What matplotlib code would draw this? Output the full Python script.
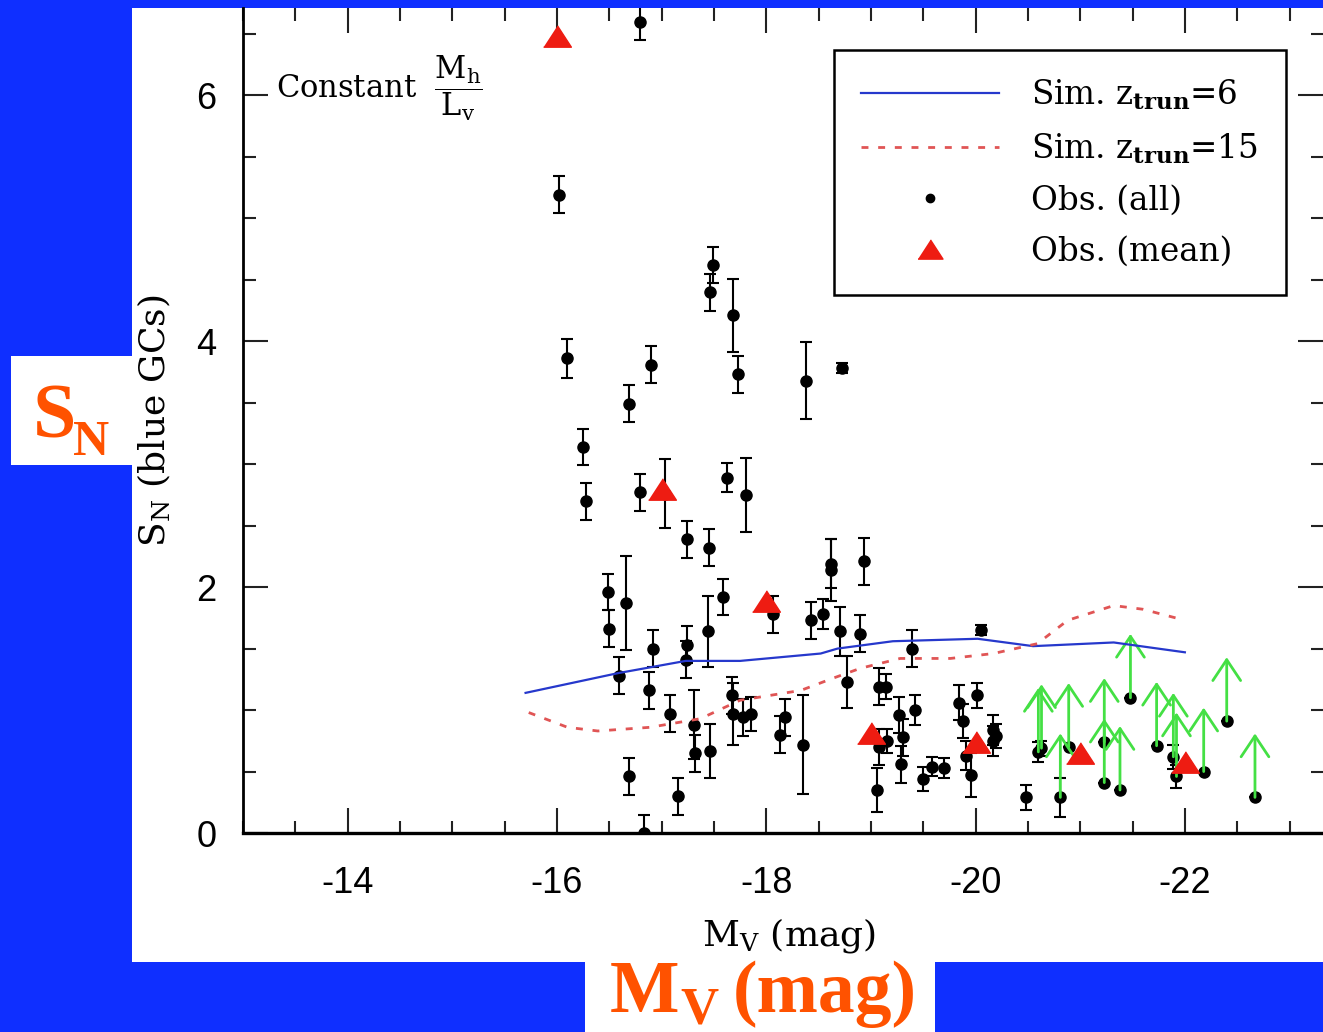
import matplotlib
matplotlib.use('Agg')
import matplotlib.pyplot as plt
from matplotlib.patches import Rectangle
from matplotlib.lines import Line2D
from matplotlib.ticker import MultipleLocator

plt.rcParams['font.family'] = ['DejaVu Serif']
plt.rcParams['mathtext.fontset'] = 'dejavuserif'
plt.rcParams['axes.unicode_minus'] = False

# Observed galaxies (all), with error bars
mv_all = [-16.79, -16.02, -16.10, -16.25, -16.28, -16.69, -16.90, -16.79, -17.03,
          -17.24, -17.45, -17.49, -17.46, -17.68, -17.73, -18.38, -18.72, -17.62, -17.81,
          -16.49, -16.50, -16.66, -16.59, -16.92, -16.88, -17.08, -17.24, -17.23, -17.44,
          -17.59, -18.06, -16.69, -17.16, -16.83, -17.31, -17.32, -17.46, -17.67, -17.68,
          -17.78, -17.85, -18.13, -18.18, -18.35,
          -18.62, -18.62, -18.93, -18.43, -18.54, -18.70, -18.90, -19.39, -20.05, -18.77,
          -19.08, -19.14, -19.27, -19.42, -19.15, -19.08, -19.31, -19.29, -19.06, -19.50,
          -19.58, -19.70, -19.84, -19.88, -20.01, -19.91, -19.96, -20.17, -20.17, -20.20,
          -20.48]
sn_all = [6.60, 5.19, 3.86, 3.14, 2.70, 3.49, 3.81, 2.77, 2.76,
          2.39, 2.32, 4.62, 4.40, 4.21, 3.73, 3.68, 3.78, 2.89, 2.75,
          1.96, 1.66, 1.87, 1.28, 1.50, 1.16, 0.97, 1.53, 1.41, 1.64,
          1.92, 1.78, 0.46, 0.30, 0.00, 0.88, 0.65, 0.67, 1.12, 0.97,
          0.94, 0.97, 0.80, 0.94, 0.72,
          2.19, 2.14, 2.21, 1.73, 1.78, 1.64, 1.62, 1.50, 1.65, 1.23,
          1.19, 1.19, 0.96, 1.00, 0.75, 0.70, 0.78, 0.56, 0.35, 0.44,
          0.54, 0.53, 1.06, 0.91, 1.12, 0.63, 0.47, 0.84, 0.75, 0.79,
          0.29]
sn_all_err = [0.15, 0.15, 0.16, 0.15, 0.15, 0.15, 0.15, 0.15, 0.28,
              0.15, 0.15, 0.15, 0.15, 0.30, 0.15, 0.31, 0.04, 0.12, 0.30,
              0.15, 0.15, 0.38, 0.15, 0.15, 0.15, 0.15, 0.15, 0.15, 0.29,
              0.15, 0.15, 0.15, 0.15, 0.15, 0.28, 0.15, 0.22, 0.15, 0.25,
              0.15, 0.14, 0.15, 0.15, 0.40,
              0.20, 0.25, 0.19, 0.15, 0.12, 0.20, 0.15, 0.15, 0.04, 0.21,
              0.15, 0.10, 0.15, 0.12, 0.10, 0.15, 0.15, 0.15, 0.18, 0.10,
              0.08, 0.08, 0.14, 0.14, 0.10, 0.12, 0.18, 0.12, 0.12, 0.10,
              0.10]

# Observed galaxies that are lower limits (green arrows)
mv_lim = [-20.60, -20.63, -20.81, -20.89, -21.23, -21.23, -21.38, -21.48,
          -21.73, -21.89, -21.92, -22.18, -22.40, -22.67]
sn_lim = [0.66, 0.69, 0.29, 0.70, 0.74, 0.41, 0.35, 1.10,
          0.71, 0.62, 0.46, 0.50, 0.91, 0.29]
sn_lim_err = [0.08, 0.06, 0.16, 0.0, 0.0, 0.0, 0.0, 0.0,
              0.0, 0.10, 0.09, 0.0, 0.0, 0.0]

# Observed means
mv_mean = [-16, -17, -18, -19, -20, -21, -22]
sn_mean = [6.48, 2.80, 1.89, 0.81, 0.74, 0.65, 0.58]

# Simulations
mv_sim6 = [-15.70, -16.58, -17.23, -17.75, -18.52, -18.68, -19.21, -20.02, -20.55, -21.32, -22.00]
sn_sim6 = [1.14, 1.30, 1.40, 1.40, 1.46, 1.50, 1.56, 1.58, 1.52, 1.55, 1.47]
mv_sim15 = [-15.73, -16.10, -16.39, -16.89, -17.37, -17.75, -18.33, -18.64, -18.90,
            -19.28, -19.76, -20.17, -20.59, -20.88, -21.32, -21.60, -22.00]
sn_sim15 = [0.98, 0.86, 0.83, 0.86, 0.93, 1.08, 1.16, 1.26, 1.34,
            1.42, 1.42, 1.46, 1.54, 1.73, 1.85, 1.82, 1.73]

blue_bg = '#0f2fff'
orange = '#ff5200'
red = '#ee1c12'
green = '#44e044'
sim6_col = '#2638cc'
sim15_col = '#e05555'
sim15_ls = (0, (2.5, 3.5))
arrow_len = 0.52
tri = [(-1, -0.77), (1, -0.77), (0, 0.77)]

fig = plt.figure(figsize=(13.23, 10.32), dpi=100, facecolor=blue_bg)

# white panels on the blue slide
fig.add_artist(Rectangle((0.0998, 0.0678), 0.9002, 0.9244, transform=fig.transFigure,
                         facecolor='white', edgecolor='none', zorder=-1))
fig.add_artist(Rectangle((0.0083, 0.5494), 0.0915, 0.1056, transform=fig.transFigure,
                         facecolor='white', edgecolor='none', zorder=-1))
fig.add_artist(Rectangle((0.4422, 0.0), 0.2646, 0.0679, transform=fig.transFigure,
                         facecolor='white', edgecolor='none', zorder=-1))

ax = fig.add_axes([0.1837, 0.1928, 0.8163, 0.7994])
ax.set_facecolor('white')
ax.set_xlim(-13.0, -23.32)
ax.set_ylim(0, 6.71)

ax.errorbar(mv_all, sn_all, yerr=sn_all_err, fmt='o', color='black', ms=8,
            elinewidth=1.5, capsize=4.5, capthick=1.5, zorder=3)
ax.errorbar(mv_lim, sn_lim, yerr=sn_lim_err, fmt='o', color='black', ms=8,
            elinewidth=1.5, capsize=4.5, capthick=1.5, zorder=3)
for x, y in zip(mv_lim, sn_lim):
    ax.annotate('', xy=(x, y + arrow_len), xytext=(x, y),
                arrowprops=dict(arrowstyle='->,head_length=0.75,head_width=0.5',
                                color=green, lw=2, shrinkA=0, shrinkB=0,
                                mutation_scale=20), zorder=4)

ax.plot(mv_mean, sn_mean, ls='none', marker=tri, ms=20, color=red, zorder=4)
ax.plot(mv_sim6, sn_sim6, color=sim6_col, lw=1.6, zorder=5)
ax.plot(mv_sim15, sn_sim15, color=sim15_col, lw=2, ls=sim15_ls, zorder=5)

# axes styling
ax.spines['top'].set_visible(False)
ax.spines['right'].set_visible(False)
ax.spines['left'].set_linewidth(2)
ax.spines['bottom'].set_linewidth(2.4)
ax.xaxis.set_major_locator(MultipleLocator(2))
ax.xaxis.set_minor_locator(MultipleLocator(0.5))
ax.yaxis.set_major_locator(MultipleLocator(2))
ax.yaxis.set_minor_locator(MultipleLocator(0.5))
ax.tick_params(which='both', direction='in', top=True, right=True, width=1.5, color='#222222')
ax.tick_params(which='major', length=18)
ax.tick_params(which='minor', length=9)
ax.tick_params(axis='x', pad=24, labelsize=26, labelfontfamily='Liberation Sans')
ax.tick_params(axis='y', pad=19, labelsize=26, labelfontfamily='Liberation Sans')

ax.set_xlabel(r'M$_\mathrm{V}$ (mag)', fontsize=26)
ax.xaxis.set_label_coords(0.506, -0.10)
ax.set_ylabel(r'S$_\mathrm{N}$ (blue GCs)', fontsize=26)
ax.yaxis.set_label_coords(-0.066, 0.5)

ax.text(0.0306, 0.903, r'Constant  $\dfrac{\mathrm{M_h}}{\mathrm{L_v}}$', transform=ax.transAxes,
        fontsize=22, va='center')

handles = [Line2D([], [], color=sim6_col, lw=1.6),
           Line2D([], [], color=sim15_col, lw=2, ls=sim15_ls),
           Line2D([], [], ls='none', marker='o', color='black', ms=6),
           Line2D([], [], ls='none', marker=tri, color=red, ms=18)]
labels = [r'Sim. z$_{\mathbf{trun}}$=6', r'Sim. z$_{\mathbf{trun}}$=15',
          'Obs. (all)', 'Obs. (mean)']
leg = ax.legend(handles, labels, loc='upper right', bbox_to_anchor=(0.9657, 0.949),
                bbox_transform=ax.transAxes, borderaxespad=0, fontsize=23.5,
                handlelength=4.2, handletextpad=1.0, labelspacing=0.58, borderpad=0.85,
                frameon=True, fancybox=False, edgecolor='black', framealpha=1)
leg.get_frame().set_linewidth(1.8)

# orange slide annotations
fig.text(33 / 1323, (1032 - 438) / 1032, 'S', fontsize=56, fontweight='bold',
         family='Liberation Serif', color=orange, va='baseline')
fig.text(73 / 1323, (1032 - 455) / 1032, 'N', fontsize=36, fontweight='bold',
         family='Liberation Serif', color=orange, va='baseline')
fig.text(610 / 1323, (1032 - 1012) / 1032, 'M', fontsize=53, fontweight='bold',
         family='Liberation Serif', color=orange, va='baseline')
fig.text(680 / 1323, (1032 - 1023) / 1032, 'V', fontsize=38, fontweight='bold',
         family='Liberation Serif', color=orange, va='baseline')
fig.text(733 / 1323, (1032 - 1012) / 1032, '(mag)', fontsize=53, fontweight='bold',
         family='Liberation Serif', color=orange, va='baseline')

fig.savefig('out.png', dpi=100, facecolor=blue_bg)
